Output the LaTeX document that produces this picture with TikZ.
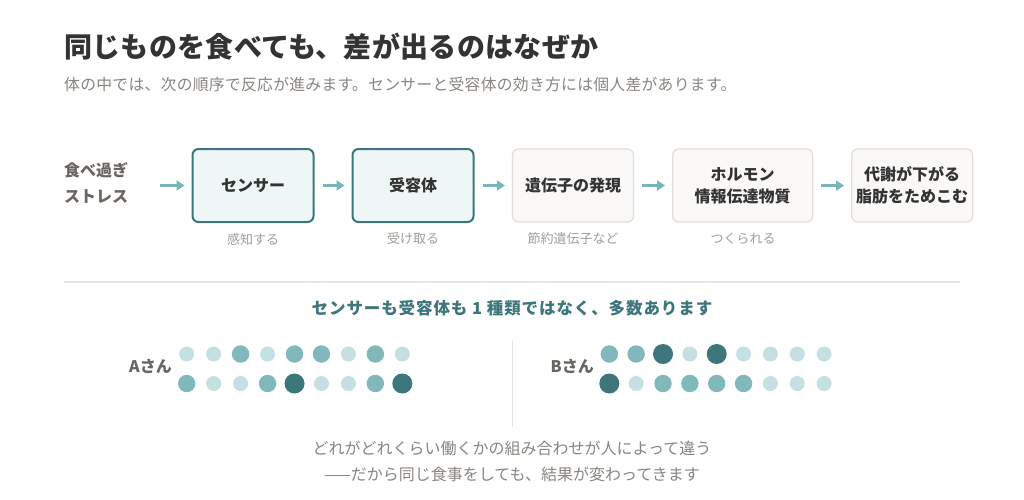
\documentclass[tikz,border=0pt]{standalone}
\usepackage{fontspec}
\setmainfont{Noto Sans CJK JP}
\usetikzlibrary{arrows.meta}
\definecolor{titlec}{HTML}{333333}
\definecolor{subc}{HTML}{8A8580}
\definecolor{labc}{HTML}{6B6560}
\definecolor{smallc}{HTML}{A39D97}
\definecolor{tealdark}{HTML}{3D767B}
\definecolor{tealmed}{HTML}{80B8BB}
\definecolor{teallight}{HTML}{C5E0E2}
\definecolor{arrowc}{HTML}{7AB5B9}
\definecolor{actfill}{HTML}{EFF6F6}
\definecolor{passfill}{HTML}{FAF9F7}
\definecolor{passdraw}{HTML}{E3DFD8}
\definecolor{rulec}{HTML}{E8E5E0}
\tikzset{
  activebox/.style={draw=tealdark, line width=2pt, fill=actfill, rounded corners=6pt,
    minimum height=73pt, inner sep=0pt, align=center, text=titlec,
    font=\fontsize{16}{22}\selectfont\bfseries},
  passivebox/.style={draw=passdraw, line width=1.3pt, fill=passfill, rounded corners=6pt,
    minimum height=73pt, inner sep=0pt, align=center, text=titlec,
    font=\fontsize{16}{22}\selectfont\bfseries},
  sublabel/.style={inner sep=0pt, text=smallc, font=\fontsize{13}{16}\selectfont},
  flow/.style={draw=arrowc, line width=3pt, -{Triangle[length=8pt,width=10pt]},
    shorten >=7pt, shorten <=8pt},
  dl/.style={fill=teallight, radius=7.5pt},
  dm/.style={fill=tealmed, radius=8.7pt},
  dd/.style={fill=tealdark, radius=10pt},
  person/.style={inner sep=0pt, anchor=east, text=labc, font=\fontsize{16}{20}\selectfont\bfseries},
  bottomtext/.style={inner sep=0pt, text=subc, font=\fontsize{16}{20}\selectfont}
}
\newcommand\dotrow[4]{%
  \foreach \t [count=\i from 0] in {#4} {%
    \pgfmathsetmacro\xx{#1+#3*\i}%
    \fill[\t] (\xx,#2) circle;
  }%
}
\begin{document}
\begin{tikzpicture}[x=1pt,y=-1pt]
\useasboundingbox (0,0) rectangle (1024,499);
\fill[white] (0,0) rectangle (1024,499);
% title
\node[anchor=west, inner sep=0pt, text=titlec, font=\fontsize{28}{34}\selectfont\bfseries\addfontfeature{LetterSpace=1.1}] (title) at (64,47) {同じものを食べても、差が出るのはなぜか};
\node[anchor=west, inner sep=0pt, text=subc, font=\fontsize{15.8}{20}\selectfont\addfontfeature{LetterSpace=1.8}] (sub) at (64,84) {体の中では、次の順序で反応が進みます。センサーと受容体の効き方には個人差があります。};
% left label
\node[anchor=west, inner sep=0pt, align=left, text=labc, font=\fontsize{16}{26}\selectfont\bfseries] (cause) at (64,183) {食べ過ぎ\\ストレス};
% boxes
\node[activebox, minimum width=121pt] (b1) at (253,185.5) {センサー};
\node[activebox, minimum width=121pt] (b2) at (413,185.5) {受容体};
\node[passivebox, minimum width=121pt] (b3) at (573,185.5) {遺伝子の発現};
\node[passivebox, minimum width=140pt] (b4) at (742.7,185.5) {ホルモン\\情報伝達物質};
\node[passivebox, minimum width=121pt] (b5) at (912.2,185.5) {代謝が下がる\\脂肪をためこむ};
% arrows
\draw[flow, shorten <=32pt] (cause.east |- b1.west) -- (b1.west);
\draw[flow] (b1.east) -- (b2.west);
\draw[flow] (b2.east) -- (b3.west);
\draw[flow] (b3.east) -- (b4.west);
\draw[flow] (b4.east) -- (b5.west);
% sublabels
\node[sublabel] (l1) at (253,239) {感知する};
\node[sublabel] (l2) at (413,239) {受け取る};
\node[sublabel] (l3) at (573,239) {節約遺伝子など};
\node[sublabel] (l4) at (743,239) {つくられる};
% rule
\draw[rulec, line width=2pt] (64,282) -- (960,282);
% heading
\node[inner sep=0pt, text=tealdark, font=\fontsize{16.5}{20}\selectfont\bfseries\addfontfeature{LetterSpace=5.5}] (head) at (512,308) {センサーも受容体も 1 種類ではなく、多数あります};
% divider
\draw[rulec, line width=1.5pt] (512.5,340) -- (512.5,427);
% persons
\node[person] (pa) at (172,366) {Aさん};
\node[person] (pb) at (594,366) {Bさん};
% dots
\dotrow{186.7}{354}{26.95}{dl,dl,dm,dl,dm,dm,dl,dm,dl}
\dotrow{186.7}{383.5}{26.95}{dm,dl,dl,dm,dd,dl,dl,dm,dd}
\dotrow{609.3}{354}{26.85}{dm,dm,dd,dl,dd,dl,dl,dl,dl}
\dotrow{609.3}{383.5}{26.85}{dd,dl,dm,dm,dm,dm,dl,dl,dl}
% bottom text
\node[bottomtext] (bt1) at (512,448) {どれがどれくらい働くかの組み合わせが人によって違う};
\node[bottomtext] (bt2) at (512,474) {——だから同じ食事をしても、結果が変わってきます};
\end{tikzpicture}
\end{document}
